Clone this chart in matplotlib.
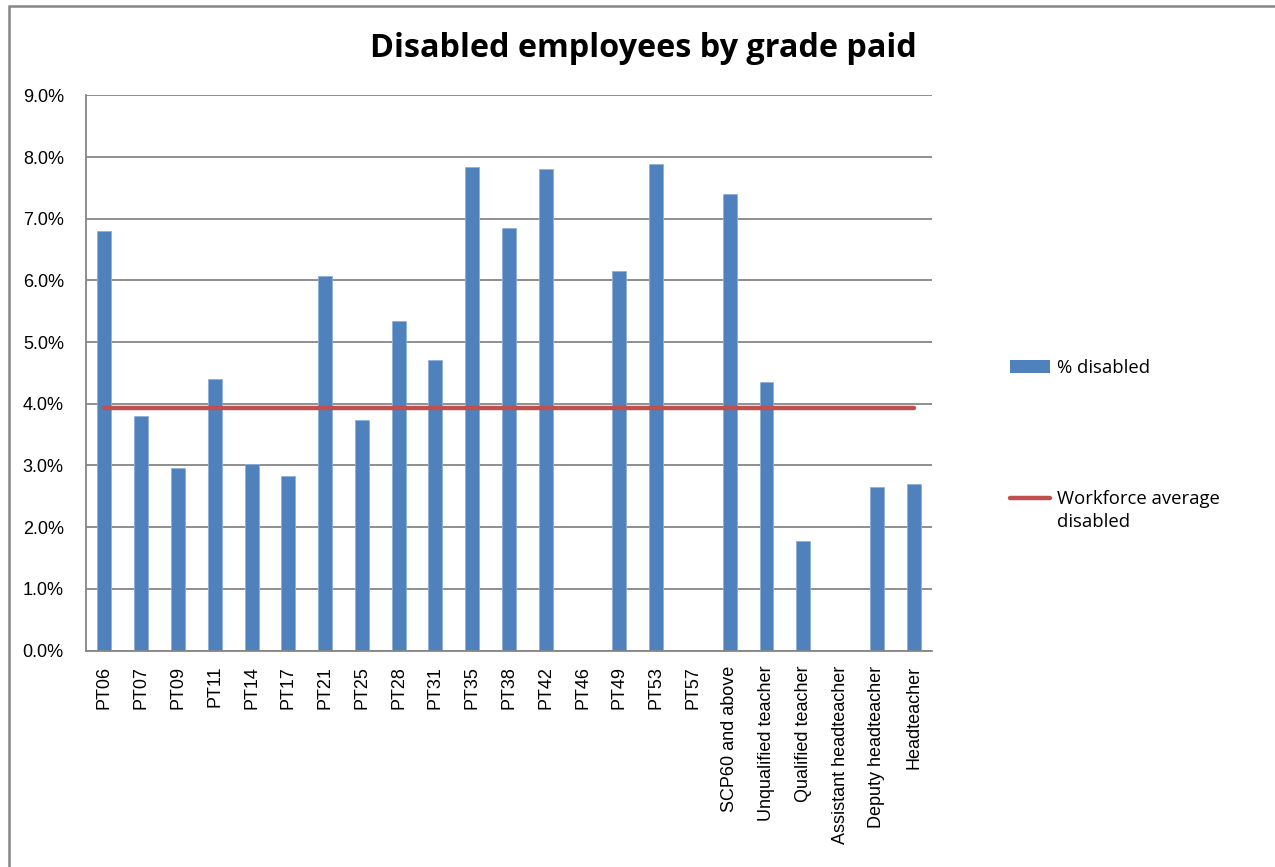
import numpy as np
import matplotlib.pyplot as plt
from matplotlib.patches import Patch, Rectangle
from matplotlib.lines import Line2D
from matplotlib.legend_handler import HandlerLine2D
from matplotlib.ticker import FuncFormatter, MultipleLocator

grades = [
    "PT06", "PT07", "PT09", "PT11", "PT14", "PT17", "PT21", "PT25", "PT28",
    "PT31", "PT35", "PT38", "PT42", "PT46", "PT49", "PT53", "PT57",
    "SCP60 and above", "Unqualified teacher", "Qualified teacher",
    "Assistant headteacher", "Deputy headteacher", "Headteacher",
]
pct_disabled = [
    6.80, 3.80, 2.96, 4.40, 3.02, 2.83, 6.07, 3.74, 5.35,
    4.71, 7.84, 6.85, 7.81, 0.0, 6.16, 7.89, 0.0,
    7.40, 4.36, 1.78, 0.0, 2.65, 2.70,
]
workforce_avg = 3.94

BLUE = "#4F81BD"
RED = "#C0504D"
GRID = "#868686"


class FirstLineHandler(HandlerLine2D):
    """Line key lined up with the first row of a two-line label."""

    def create_artists(self, legend, orig_handle, xdescent, ydescent,
                       width, height, fontsize, trans):
        artists = super().create_artists(legend, orig_handle, xdescent,
                                         ydescent, width, height, fontsize,
                                         trans)
        for a in artists:
            a.set_ydata(np.asarray(a.get_ydata()) + 0.68 * fontsize)
        return artists


fig = plt.figure(figsize=(12.75, 8.67), dpi=100)
ax = fig.add_axes([0.0675, 0.2497, 0.6635, 0.6402])

x = np.arange(len(grades))
ax.bar(x, pct_disabled, width=0.38, color=BLUE, edgecolor="#8EB0DA",
       linewidth=0.6, zorder=2, label="% disabled")
ax.plot(x, [workforce_avg] * len(grades), color=RED, linewidth=3.2,
        solid_capstyle="round", zorder=3)

ax.set_xlim(-0.5, len(grades) - 0.5)
ax.set_ylim(0, 9)
ax.yaxis.set_major_locator(MultipleLocator(1))
ax.yaxis.set_major_formatter(FuncFormatter(lambda v, _: f"{v:.1f}%"))
ax.grid(axis="y", color=GRID, linewidth=1.3, zorder=0)
ax.set_axisbelow(True)

ax.set_xticks(x)
ax.set_xticklabels(grades, rotation=90, fontfamily="Liberation Sans",
                   fontsize=13)
for lbl in ax.get_yticklabels():
    lbl.set_fontfamily("Liberation Sans")
    lbl.set_fontsize(13)
ax.tick_params(axis="both", length=0)
ax.tick_params(axis="x", pad=11)
ax.tick_params(axis="y", pad=16)

for side in ("top", "right"):
    ax.spines[side].set_visible(False)
for side in ("left", "bottom"):
    ax.spines[side].set_color(GRID)
    ax.spines[side].set_linewidth(1.3)

fig.text(0.5047, 0.944, "Disabled employees by grade paid", ha="center",
         va="center", fontfamily="Open Sans", fontweight="bold", fontsize=23.3)

avg_key = Line2D([], [], color=RED, linewidth=3.2, solid_capstyle="round")
handles = [Patch(facecolor=BLUE, edgecolor="none"), avg_key]
leg = fig.legend(handles, ["% disabled", "Workforce average\ndisabled"],
                 loc="upper left", bbox_to_anchor=(0.7924, 0.586),
                 frameon=False, prop={"family": "Open Sans", "size": 13.3},
                 labelspacing=6.1, handlelength=2.16, handleheight=0.65,
                 handletextpad=0.38, borderaxespad=0, borderpad=0,
                 handler_map={avg_key: FirstLineHandler()})
for t in leg.get_texts():
    t.set_linespacing(1.35)

# outer chart frame, clipped by the canvas on the right and bottom
fig.patches.append(Rectangle((0.007, -0.1), 1.1, 1.093, transform=fig.transFigure,
                             fill=False, edgecolor=GRID, linewidth=1.8))

fig.savefig("out.png", dpi=100)
